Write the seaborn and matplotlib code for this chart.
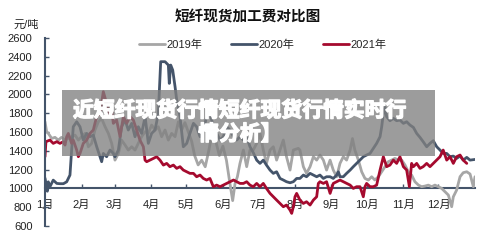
import matplotlib
matplotlib.use("Agg")
import matplotlib.pyplot as plt
import matplotlib.patheffects as pe
import seaborn as sns
import pandas as pd
from matplotlib.patches import Rectangle

# ---------------- data (day of year, value in 元/吨) ----------------
days_2019 = [0, 1.4, 2.8, 5.7, 8.5, 11.3, 14, 17, 19.8, 22.6, 25.5, 28.3, 31, 34, 36.8, 39.6,
             42.4, 45.3, 48, 51, 53.8, 56.6, 59.4, 62.3, 65, 68, 70.7, 73.6, 76.4, 79.2, 82,
             85, 87.7, 90.5, 93.4, 96.2, 99, 101.9, 104.7, 107.5, 110.4, 113.2, 116, 118.8,
             121.7, 124.5, 127, 130, 133, 136, 139, 142, 145, 148, 151, 154, 157, 159.3,
             161.3, 163.3, 165.5, 168.4, 171.2, 174, 176.8, 179.7, 182.5, 185.3, 188, 191,
             193.8, 196.6, 199.5, 202.3, 205, 208, 210.8, 215, 216.4, 219.3, 222, 225, 227.8,
             230.6, 233.4, 236.3, 239, 242, 244.7, 247.6, 250.4, 253.2, 256, 259, 261, 263,
             266, 268.8, 271.6, 274.5, 277.3, 280, 283, 285.8, 288.6, 291.4, 294.3, 297, 300,
             302.8, 305.6, 308.4, 311.2, 314, 317, 319.7, 322.6, 325.4, 328.2, 331, 333.9,
             336.7, 339.5, 342.4, 345.2, 346.6, 349.4, 352.3, 355, 358, 360.8, 363.6, 365]
vals_2019 = [1709, 1603, 1585, 1532, 1543, 1514, 1543, 1514, 1532, 1550, 1567, 1514, 1550, 1585,
             1443, 1479, 1621, 1709, 1745, 1656, 1585, 1479, 1301, 1372, 1514, 1461, 1408, 1443,
             1408, 1479, 1550, 1603, 1585, 1674, 1621, 1656, 1550, 1621, 1514, 1585, 1550, 1709,
             1621, 1700, 1600, 1500, 1350, 1250, 1300, 1230, 1400, 1600, 1500, 1350, 1450, 1300,
             1050, 870, 1050, 1124, 1266, 1408, 1231, 1408, 1408, 1479, 1585, 1408, 1266, 1408,
             1443, 1301, 1408, 1514, 1337, 1195, 1408, 1426, 1408, 1231, 1160, 1231, 1337, 1301,
             1355, 1301, 1195, 1301, 1195, 1124, 1266, 1337, 1301, 1408, 1530, 1408, 1301, 1177,
             1106, 1089, 1124, 1089, 1124, 1177, 1231, 1284, 1301, 1319, 1301, 1301, 1248, 1177,
             1142, 1071, 1035, 1018, 1025, 1035, 1018, 1035, 1018, 1000, 965, 929, 805, 911, 982,
             1124, 1167, 1177, 1153, 1018, 1124]

days_2020 = [0, 2, 2.8, 4.2, 7, 10, 12.7, 15.6, 18.4, 21.2, 22.6, 24, 26.9, 29.7, 32.5, 35.4,
             38.2, 41, 43.9, 46.7, 48.1, 49.5, 52.3, 55.2, 58, 59.4, 62.3, 65, 68, 70.7, 73.6,
             76.4, 79.2, 82, 85, 87.7, 90.5, 93.4, 96.2, 98.2, 101.9, 104.7, 105.5, 106.7, 108.4,
             110.4, 111.8, 114.6, 117.4, 120.3, 123, 126, 128.7, 131.6, 134.4, 137.2, 140, 142.9,
             145.7, 148.6, 151.4, 154.2, 157, 160, 162.7, 165.5, 168.4, 171.2, 174, 176.8, 179.7,
             182.5, 185.3, 188, 191, 193.8, 196.6, 199.5, 202.3, 205, 208, 210.8, 213.6, 216.4,
             219.3, 222, 225, 227.8, 230.6, 233.4, 236.3, 239, 242, 244.7, 247.6, 249, 250.4,
             253.2, 256, 259, 261.7, 264.5, 267.4, 270.2, 273, 275.9, 278.7, 281.5, 284.4, 285.8,
             287.2, 288.6, 290, 292.8, 295.7, 298.5, 301.3, 304.2, 307, 309.8, 312.7, 315.5,
             318.3, 321, 324, 326.8, 329.6, 332.5, 335.3, 338, 341, 343.8, 346.6, 349.4, 352.3,
             355, 358, 360.8, 365]
vals_2020 = [1110, 970, 1070, 1018, 1088, 1053, 1050, 1050, 1070, 1142, 1408, 1656, 1709, 1656,
             1514, 1585, 1550, 1567, 1443, 1337, 1284, 1372, 1337, 1408, 1372, 1337, 1408, 1656,
             1727, 1621, 1692, 1550, 1656, 1585, 1763, 1479, 1585, 1621, 1798, 2348, 2348, 2312,
             2117, 2312, 2259, 2082, 1940, 1763, 1443, 1479, 1585, 1692, 1656, 1550, 1621, 1763,
             1798, 1656, 1585, 1514, 1550, 1656, 1621, 1550, 1514, 1550, 1514, 1550, 1443, 1380,
             1301, 1266, 1301, 1248, 1195, 1160, 1177, 1106, 1089, 1071, 1060, 1071, 1106, 1106,
             1142, 1124, 1160, 1142, 1124, 1142, 1106, 1124, 1124, 1106, 1142, 1177, 1124, 1124,
             1160, 1195, 1231, 1266, 1301, 1337, 1355, 1372, 1426, 1479, 1550, 1656, 1798, 1862,
             1763, 1720, 1745, 1720, 1727, 1692, 1709, 1674, 1649, 1585, 1543, 1497, 1443, 1479,
             1507, 1443, 1408, 1372, 1372, 1337, 1344, 1319, 1344, 1301, 1330, 1301, 1308]

days_2021 = [0, 0.8, 4.2, 7, 10, 12.7, 15.6, 17, 18.4, 19.8, 21.2, 22.6, 24, 26.9, 28.3, 29.7,
             32.5, 35.4, 38.2, 41, 42.4, 43.9, 46.7, 49.5, 52.3, 55.2, 56.6, 58, 60.8, 63.7,
             66.5, 69.3, 72.2, 75, 77.8, 80.6, 83.5, 84.9, 86.3, 89.1, 92, 94.8, 97.6, 100.5,
             103.3, 106, 109, 111.8, 114.6, 117.4, 120.3, 123, 126, 128.7, 131.6, 134.4, 137.2,
             140, 142.9, 145.7, 148.6, 151.4, 154.2, 157, 160, 162.7, 165.5, 168.4, 171.2, 174,
             176.8, 179.7, 182.5, 185.3, 188, 191, 193.8, 196.6, 199.5, 202.3, 205, 208, 209.4,
             210.8, 212.2, 213.6, 216.4, 219.3, 222, 225, 227.8, 230.6, 232, 233.4, 236.3, 239,
             242, 244.7, 247.6, 250.4, 253.2, 256, 259, 261.7, 264.5, 267.4, 270.2, 271.6, 273,
             275.9, 278.7, 281.5, 284.4, 287.2, 290, 292.8, 295.7, 298.5, 301.3, 304.2, 307,
             309.3, 311.2, 312.7, 315.5, 318.3, 321, 324, 326.8, 329.6, 332.5, 335.3, 338, 341,
             343.8, 346.6, 349.4, 352.3, 355, 358]
vals_2021 = [1337, 1497, 1514, 1479, 1497, 1479, 1497, 1461, 1550, 1585, 1532, 1479, 1514, 1408,
             1337, 1372, 1479, 1514, 1585, 1621, 1692, 1763, 1798, 2029, 1904, 1763, 1834, 1692,
             1727, 1550, 1763, 1692, 1763, 1727, 1621, 1514, 1443, 1301, 1284, 1301, 1319, 1337,
             1301, 1248, 1266, 1231, 1248, 1213, 1231, 1195, 1177, 1160, 1160, 1124, 1142, 1106,
             1089, 1106, 1018, 1035, 1018, 1035, 1053, 1071, 1089, 1071, 1053, 1053, 1071, 1035,
             1018, 1053, 1018, 1053, 1000, 947, 911, 876, 840, 805, 823, 769, 734, 805, 911, 947,
             876, 840, 858, 823, 876, 911, 1053, 1071, 1053, 1071, 947, 1053, 1071, 1089, 1071,
             1053, 1035, 1000, 1018, 1018, 911, 1018, 1053, 1018, 1018, 1035, 1195, 1337, 1231,
             1248, 1301, 1266, 1337, 1231, 1195, 1018, 1266, 1231, 1266, 1213, 1231, 1266, 1231,
             1266, 1301, 1337, 1408, 1301, 1337, 1266, 1337, 1355, 1301, 1266]

years = ["2019年", "2020年", "2021年"]
colors = ["#a6a6a6", "#44546a", "#a50a2e"]
month_starts = [0, 31, 59, 90, 120, 151, 181, 212, 243, 273, 304, 334]
month_labels = ["1月", "2月", "3月", "4月", "5月", "6月", "7月", "8月", "9月", "10月", "11月", "12月"]
y_ticks = [600, 800, 1000, 1200, 1400, 1600, 1800, 2000, 2200, 2400, 2600]
title = "短纤现货加工费对比图"
unit = "元/吨"
banner = "近短纤现货行情短纤现货行情实时行\n情分析】"

# ---------------- build frame ----------------
df = pd.concat([
    pd.DataFrame({"day": days_2019, "value": vals_2019, "year": years[0]}),
    pd.DataFrame({"day": days_2020, "value": vals_2020, "year": years[1]}),
    pd.DataFrame({"day": days_2021, "value": vals_2021, "year": years[2]}),
], ignore_index=True)

sns.set_theme(style="white")
plt.rcParams["font.family"] = ["Liberation Sans", "Noto Sans CJK SC", "DejaVu Sans"]

fig = plt.figure(figsize=(5, 2.5), dpi=100)
ax = fig.add_axes([0.09, 0.096, 0.86, 0.752])

sns.lineplot(data=df, x="day", y="value", hue="year", palette=dict(zip(years, colors)),
             hue_order=years, estimator=None, sort=False, linewidth=2.0, ax=ax)

ax.set_xlim(0, 365)
ax.set_ylim(600, 2600)
ax.set_xticks(month_starts)
ax.set_xticklabels(month_labels)
ax.set_yticks(y_ticks)
ax.set_xlabel("")
ax.set_ylabel("")

axis_col = "#44546a"
for s in ["top", "right"]:
    ax.spines[s].set_visible(False)
ax.spines["left"].set_color(axis_col)
ax.spines["left"].set_linewidth(1.5)
ax.spines["bottom"].set_color(axis_col)
ax.spines["bottom"].set_linewidth(1.5)
ax.spines["bottom"].set_position(("data", 1000))
ax.spines["bottom"].set_zorder(1)

ax.tick_params(axis="x", direction="in", length=3, width=1, color=axis_col,
               labelsize=8, pad=8, labelcolor="#222222", bottom=True)
ax.tick_params(axis="y", direction="in", length=3, width=1, color=axis_col,
               labelsize=8, pad=9, labelcolor="#222222", left=True)

leg = ax.legend(loc="center", bbox_to_anchor=(263 / 500, 1 - 45 / 250),
                bbox_transform=fig.transFigure, ncol=3, frameon=False, fontsize=8,
                handlelength=2.3, handletextpad=0.15, columnspacing=2.6)
for line in leg.get_lines():
    line.set_linewidth(2.0)

fig.text(248 / 500, 1 - 17 / 250, title, ha="center", va="center", fontsize=10.5,
         fontweight="bold", color="#111111")
fig.text(13 / 500, 1 - 25 / 250, unit, ha="left", va="center", fontsize=8, color="#222222")

rect = Rectangle((62 / 500, 1 - 156 / 250), (435 - 62) / 500, 66 / 250,
                 transform=fig.transFigure, facecolor="#808080", alpha=0.78,
                 edgecolor="none", zorder=10)
fig.add_artist(rect)
fig.text(240 / 500, 1 - 122 / 250, banner, ha="center", va="center", fontsize=15,
         fontweight="bold", color="white", linespacing=1.15, zorder=11,
         family=["Noto Sans CJK SC", "DejaVu Sans"],
         path_effects=[pe.withStroke(linewidth=1.0, foreground="white")])

fig.savefig("out.png", dpi=100)
